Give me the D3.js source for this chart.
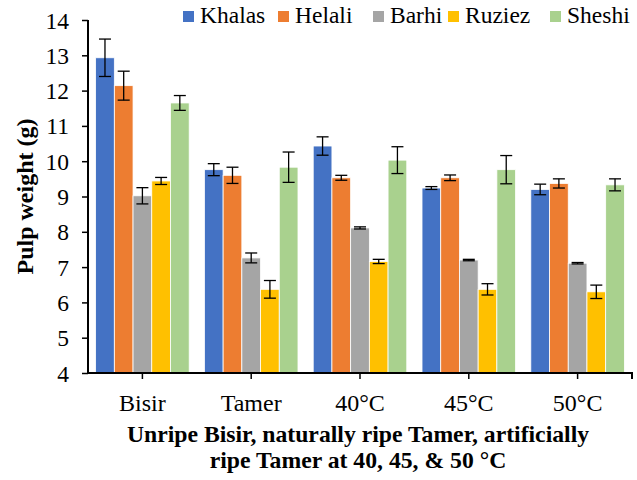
<!DOCTYPE html>
<html>
<head>
<meta charset="utf-8">
<script src="https://cdn.jsdelivr.net/npm/d3@7"></script>
<style>
  body { margin: 0; background: #fff; }
</style>
</head>
<body>
<svg width="637" height="480"></svg>
<script>
// categories and series
var stages = ["Bisir", "Tamer", "40°C", "45°C", "50°C"];
var cultivars = ["Khalas", "Helali", "Barhi", "Ruziez", "Sheshi"];
var colors = ["#4472C4", "#ED7D31", "#A5A5A5", "#FFC000", "#A9D18E"];

// mean pulp weight (g), one array per cultivar, in stage order
var khalas = [12.93, 9.76, 10.43, 9.24, 9.20];
var helali = [12.14, 9.60, 9.53, 9.53, 9.37];
var barhi  = [9.02, 7.26, 8.11, 7.20, 7.11];
var ruziez = [9.44, 6.37, 7.16, 6.37, 6.30];
var sheshi = [11.65, 9.83, 10.03, 9.76, 9.33];

// error bars (+/-)
var khalasErr = [0.53, 0.17, 0.26, 0.04, 0.15];
var helaliErr = [0.41, 0.23, 0.07, 0.08, 0.13];
var barhiErr  = [0.23, 0.14, 0.03, 0.02, 0.02];
var ruziezErr = [0.10, 0.25, 0.06, 0.16, 0.19];
var sheshiErr = [0.21, 0.43, 0.38, 0.40, 0.17];

var yTicks = [4, 5, 6, 7, 8, 9, 10, 11, 12, 13, 14];

var FONT = "'Liberation Serif', 'Times New Roman', 'DejaVu Serif', serif";

var values = [khalas, helali, barhi, ruziez, sheshi];
var errors = [khalasErr, helaliErr, barhiErr, ruziezErr, sheshiErr];

var rows = [];
stages.forEach(function(s, i){
	cultivars.forEach(function(c, j){
		rows.push({stage: s, cultivar: c, value: values[j][i], err: errors[j][i], color: colors[j]});
	});
});

var svg = d3.select("svg"),
	margin = {top: 20, right: 5, bottom: 107, left: 88},
	width = 637 - margin.left - margin.right,
	height = 480 - margin.top - margin.bottom,
	g = svg.append("g").attr("transform", "translate(" + margin.left + "," + margin.top + ")");

var x0 = d3.scaleBand().domain(stages).range([0, width]).paddingInner(0.14).paddingOuter(0.07);
var x1 = d3.scaleBand().domain(cultivars).range([0, x0.bandwidth()]);
var y = d3.scaleLinear().domain([4, 14]).range([height, 0]);

// bars
g.selectAll("rect.bar")
	.data(rows)
	.enter().append("rect")
	.attr("class", "bar")
	.attr("x", function(d){ return x0(d.stage) + x1(d.cultivar); })
	.attr("y", function(d){ return y(d.value); })
	.attr("width", x1.bandwidth())
	.attr("height", function(d){ return y(4) - y(d.value); })
	.attr("fill", function(d){ return d.color; })
	.attr("stroke", "#fff")
	.attr("stroke-width", 0.8);

// error bars
var eb = g.selectAll("g.err")
	.data(rows)
	.enter().append("g")
	.attr("class", "err")
	.attr("stroke", "#000")
	.attr("stroke-width", 1.3);

eb.append("line")
	.attr("x1", function(d){ return x0(d.stage) + x1(d.cultivar) + x1.bandwidth() / 2; })
	.attr("x2", function(d){ return x0(d.stage) + x1(d.cultivar) + x1.bandwidth() / 2; })
	.attr("y1", function(d){ return y(d.value + d.err); })
	.attr("y2", function(d){ return y(d.value - d.err); });
[1, -1].forEach(function(sgn){
	eb.append("line")
		.attr("x1", function(d){ return x0(d.stage) + x1(d.cultivar) + x1.bandwidth() / 2 - 6; })
		.attr("x2", function(d){ return x0(d.stage) + x1(d.cultivar) + x1.bandwidth() / 2 + 6; })
		.attr("y1", function(d){ return y(d.value + sgn * d.err); })
		.attr("y2", function(d){ return y(d.value + sgn * d.err); });
});

// y axis
var yAxis = g.append("g")
	.call(d3.axisLeft(y).tickValues(yTicks).tickSize(6).tickPadding(13));
yAxis.select(".domain").attr("stroke-width", 2).attr("d", "M0,0V" + height);
yAxis.selectAll(".tick line").attr("stroke-width", 1.5);
yAxis.selectAll("text").style("font-family", FONT).style("font-size", "23.5px").attr("dy", "0.34em");

// x axis
var xAxis = g.append("g")
	.attr("transform", "translate(0," + height + ")")
	.call(d3.axisBottom(x0).tickSize(6).tickPadding(15));
xAxis.select(".domain").attr("stroke-width", 2).attr("d", "M0,0H" + width + "V6");
xAxis.selectAll(".tick line").attr("stroke-width", 1.5);
xAxis.selectAll("text").style("font-family", FONT).style("font-size", "24px");

// axis titles
svg.append("text")
	.attr("transform", "translate(33," + (margin.top + height / 2) + ") rotate(-90)")
	.attr("text-anchor", "middle")
	.style("font-family", FONT)
	.style("font-size", "24px")
	.style("font-weight", "bold")
	.text("Pulp weight (g)");

var xt = svg.append("text")
	.attr("text-anchor", "middle")
	.style("font-family", FONT)
	.style("font-size", "23.7px")
	.style("font-weight", "bold");
xt.append("tspan").attr("x", 358).attr("y", 442).text("Unripe Bisir, naturally ripe Tamer, artificially");
xt.append("tspan").attr("x", 358).attr("y", 468).text("ripe Tamer at 40, 45, & 50 °C");

// legend
var legendX = [183, 278, 373, 448, 550];
var lg = svg.selectAll("g.legend")
	.data(cultivars)
	.enter().append("g")
	.attr("class", "legend")
	.attr("transform", function(d, i){ return "translate(" + legendX[i] + ",11)"; });
lg.append("rect")
	.attr("width", 11).attr("height", 11)
	.attr("fill", function(d, i){ return colors[i]; });
lg.append("text")
	.attr("x", 17).attr("y", 12)
	.style("font-family", FONT)
	.style("font-size", "23.5px")
	.text(function(d){ return d; });
</script>
</body>
</html>
